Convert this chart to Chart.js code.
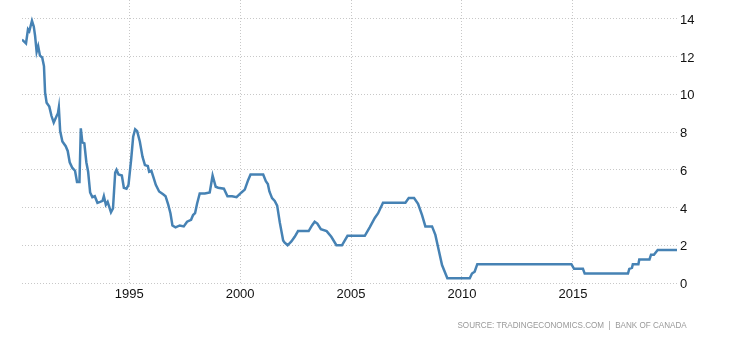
<!DOCTYPE html>
<html>
<head>
<meta charset="utf-8">
<script src="https://cdn.jsdelivr.net/npm/chart.js@4"></script>
<style>
  html, body { margin: 0; padding: 0; background: #fff; }
  #wrap { position: relative; width: 730px; height: 340px; }
  #source {
    position: absolute; right: 43px; top: 320px;
    font: 9px Arial, "Liberation Sans", sans-serif;
    color: #999; white-space: pre;
    transform: scaleX(0.9); transform-origin: right center;
  }
</style>
</head>
<body>
<div id="wrap">
  <canvas id="rateChart" width="730" height="340"></canvas>
  <div id="source">SOURCE: TRADINGECONOMICS.COM  |  BANK OF CANADA</div>
</div>
<script>
// Bank of Canada rate (decimal year, percent)
const dates = [
  1990.17, 1990.35, 1990.44, 1990.5, 1990.62, 1990.7, 1990.76, 1990.83, 1990.9, 1990.98,
  1991.08, 1991.16, 1991.21, 1991.28, 1991.4, 1991.5, 1991.6, 1991.73, 1991.79, 1991.83,
  1991.89, 1991.99, 1992.14, 1992.23, 1992.32, 1992.44, 1992.56, 1992.65, 1992.76, 1992.82,
  1992.89, 1992.98, 1993.07, 1993.15, 1993.24, 1993.34, 1993.45, 1993.57, 1993.69, 1993.8,
  1993.86, 1993.95, 1994.03, 1994.18, 1994.27, 1994.37, 1994.43, 1994.52, 1994.67, 1994.76,
  1994.88, 1994.97, 1995.09, 1995.18, 1995.27, 1995.36, 1995.48, 1995.6, 1995.71, 1995.84,
  1995.9, 1996.0, 1996.11, 1996.2, 1996.35, 1996.53, 1996.64, 1996.76, 1996.86, 1996.95,
  1997.09, 1997.28, 1997.46, 1997.61, 1997.79, 1997.88, 1997.97, 1998.06, 1998.18, 1998.41,
  1998.63, 1998.76, 1998.9, 1999.01, 1999.27, 1999.43, 1999.64, 1999.84, 2000.06, 2000.21,
  2000.36, 2000.47, 2001.04, 2001.16, 2001.25, 2001.32, 2001.44, 2001.56, 2001.67, 2001.79,
  2001.94, 2002.0, 2002.14, 2002.31, 2002.46, 2002.61, 2003.09, 2003.24, 2003.36, 2003.48,
  2003.64, 2003.9, 2004.11, 2004.34, 2004.59, 2004.84, 2005.62, 2005.84, 2006.07, 2006.22,
  2006.44, 2007.45, 2007.6, 2007.84, 2008.02, 2008.2, 2008.35, 2008.65, 2008.8, 2008.95,
  2009.1, 2009.34, 2010.35, 2010.45, 2010.57, 2010.69, 2014.93, 2015.05, 2015.45, 2015.53,
  2017.48, 2017.54, 2017.66, 2017.7, 2017.95, 2017.99, 2018.45, 2018.52, 2018.65, 2018.82,
  2019.69
];
const rates = [
  12.9, 12.7, 13.45, 13.35, 13.9, 13.6, 13.1, 12.25, 12.55, 12.05,
  11.95, 11.5, 10.1, 9.55, 9.35, 8.85, 8.5, 8.85, 9.0, 9.3,
  8.05, 7.5, 7.25, 7.0, 6.4, 6.1, 5.95, 5.35, 5.35, 8.2,
  7.45, 7.4, 6.4, 5.9, 4.8, 4.55, 4.6, 4.25, 4.3, 4.35,
  4.6, 4.15, 4.3, 3.75, 3.95, 5.85, 6.0, 5.75, 5.7, 5.05,
  5.0, 5.2, 6.55, 7.75, 8.15, 8.05, 7.5, 6.7, 6.25, 6.2,
  5.9, 5.95, 5.55, 5.2, 4.85, 4.7, 4.6, 4.15, 3.7, 3.05,
  2.95, 3.05, 3.0, 3.25, 3.35, 3.6, 3.7, 4.2, 4.75, 4.75,
  4.8, 5.7, 5.1, 5.05, 5.0, 4.6, 4.6, 4.55, 4.8, 4.95,
  5.45, 5.75, 5.75, 5.4, 5.25, 4.85, 4.5, 4.35, 4.1, 3.2,
  2.25, 2.15, 2.0, 2.2, 2.45, 2.75, 2.75, 3.05, 3.25, 3.15,
  2.85, 2.75, 2.45, 2.0, 2.0, 2.5, 2.5, 2.95, 3.45, 3.7,
  4.25, 4.25, 4.5, 4.5, 4.2, 3.6, 3.0, 3.0, 2.55, 1.75,
  0.95, 0.25, 0.25, 0.5, 0.6, 1.0, 1.0, 0.75, 0.75, 0.5,
  0.5, 0.75, 0.8, 1.0, 1.0, 1.25, 1.25, 1.5, 1.5, 1.75,
  1.75
];
const xTicks = [1995, 2000, 2005, 2010, 2015];
const yTicks = [0, 2, 4, 6, 8, 10, 12, 14];

const points = dates.map((d, i) => ({ x: d, y: rates[i] }));
const tickFont = { family: 'Arial, "Liberation Sans", sans-serif', size: 13 };

const ctx = document.getElementById('rateChart').getContext('2d');
new Chart(ctx, {
  type: 'line',
  data: {
    datasets: [{
      data: points,
      borderColor: '#4682b4',
      borderWidth: 2.5,
      pointRadius: 0,
      fill: false,
      tension: 0
    }]
  },
  options: {
    responsive: false,
    animation: false,
    layout: { padding: { left: 22, right: 0, top: 0, bottom: 0 } },
    plugins: { legend: { display: false }, tooltip: { enabled: false } },
    scales: {
      x: {
        type: 'linear',
        min: dates[0],
        max: dates[dates.length - 1],
        afterBuildTicks: axis => { axis.ticks = xTicks.map(v => ({ value: v })); },
        afterFit: axis => { axis.height = 57; axis.paddingLeft = 0; axis.paddingRight = 0; },
        grid: { color: '#c8c8c8', drawTicks: false },
        border: { display: false, dash: [1, 2] },
        ticks: {
          padding: 4,
          color: '#111',
          font: tickFont,
          callback: v => String(v),
          maxRotation: 0
        }
      },
      y: {
        position: 'right',
        min: 0,
        max: 15,
        afterBuildTicks: axis => { axis.ticks = yTicks.map(v => ({ value: v })); },
        afterFit: axis => { axis.width = 53; axis.paddingTop = 0; axis.paddingBottom = 0; },
        grid: { color: '#c8c8c8', drawTicks: false },
        border: { display: false, dash: [1, 2] },
        ticks: {
          padding: 3,
          labelOffset: 1.5,
          color: '#111',
          font: tickFont
        }
      }
    }
  }
});
</script>
</body>
</html>
